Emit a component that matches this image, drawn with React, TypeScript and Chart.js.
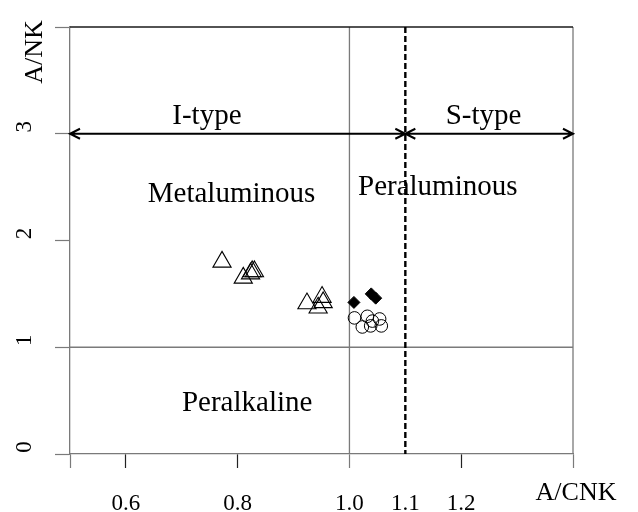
import React, { useEffect, useRef } from 'react';
import { Chart, registerables } from 'chart.js';

Chart.register(...registerables);

// Axis ticks
const xTickValues = [0.5, 0.6, 0.8, 1.0, 1.1, 1.2, 1.4];
const xTickLabels = ['', '0.6', '0.8', '1.0', '1.1', '1.2', ''];
const yTickValues = [0, 1, 2, 3, 4];
const yTickLabels = ['0', '1', '2', '3', ''];
const xAxisName = 'A/CNK';
const yAxisName = 'A/NK';

// Series: open triangles
const triangleX = [0.772, 0.81, 0.823, 0.826, 0.83, 0.924, 0.951, 0.953, 0.944];
const triangleY = [1.8, 1.65, 1.69, 1.71, 1.71, 1.41, 1.47, 1.42, 1.37];
// Series: filled diamonds
const diamondX = [1.008, 1.039, 1.047];
const diamondY = [1.42, 1.5, 1.46];
// Series: open circles
const circleX = [1.009, 1.023, 1.032, 1.038, 1.041, 1.054, 1.057];
const circleY = [1.275, 1.19, 1.29, 1.2, 1.245, 1.265, 1.2];

// Region labels
const regionNames = ['I-type', 'S-type', 'Metaluminous', 'Peraluminous', 'Peralkaline'];
const regionX = [0.745, 1.24, 0.789, 1.158, 0.817];
const regionY = [3.16, 3.16, 2.43, 2.5, 0.47];

// Boundary lines
const boundaryACNK = 1.0;
const boundaryANK = 1.0;
const typeBoundary = 1.1;
const typeArrowY = 3;
const xMin = 0.5;
const xMax = 1.4;
const yMin = 0;
const yMax = 4;

const FONT = '"Liberation Serif", "Times New Roman", serif';
const GRAY = '#7a7a7a';

const toPts = (xs: number[], ys: number[]) => xs.map((x, i) => ({ x, y: ys[i] }));

const overlayPlugin = {
  id: 'overlay',
  beforeDatasetsDraw(chart: any) {
    const { ctx, chartArea: a, scales } = chart;
    const xs = scales.x;
    const ys = scales.y;
    const px = (v: number) => xs.getPixelForValue(v);
    const py = (v: number) => ys.getPixelForValue(v);
    ctx.save();
    // gray boundary lines
    ctx.strokeStyle = GRAY;
    ctx.lineWidth = 1.3;
    ctx.beginPath();
    ctx.moveTo(a.left, py(boundaryANK));
    ctx.lineTo(a.right, py(boundaryANK));
    ctx.moveTo(px(boundaryACNK), a.top);
    ctx.lineTo(px(boundaryACNK), a.bottom);
    ctx.moveTo(a.right, a.top);
    ctx.lineTo(a.right, a.bottom);
    ctx.stroke();
    // top border
    ctx.strokeStyle = '#1a1a1a';
    ctx.lineWidth = 1.5;
    ctx.beginPath();
    ctx.moveTo(a.left, a.top);
    ctx.lineTo(a.right, a.top);
    ctx.stroke();
    // dashed I/S boundary
    ctx.strokeStyle = '#000';
    ctx.lineWidth = 2.4;
    ctx.setLineDash([6, 3]);
    ctx.beginPath();
    ctx.moveTo(px(typeBoundary), a.top);
    ctx.lineTo(px(typeBoundary), a.bottom);
    ctx.stroke();
    ctx.setLineDash([]);
    // double arrows
    const ay = py(typeArrowY);
    const segs = [
      [px(xMin), px(typeBoundary)],
      [px(typeBoundary), px(xMax)],
    ];
    ctx.lineWidth = 2;
    ctx.strokeStyle = '#000';
    const head = (x: number, dir: number) => {
      ctx.moveTo(x + dir * 10, ay - 5);
      ctx.lineTo(x, ay);
      ctx.lineTo(x + dir * 10, ay + 5);
    };
    ctx.beginPath();
    for (const [x0, x1] of segs) {
      ctx.moveTo(x0, ay);
      ctx.lineTo(x1, ay);
      head(x0, 1);
      head(x1, -1);
    }
    ctx.stroke();
    // region texts
    ctx.fillStyle = '#000';
    ctx.font = `29px ${FONT}`;
    ctx.textAlign = 'center';
    ctx.textBaseline = 'middle';
    regionNames.forEach((n, i) => {
      ctx.fillText(n, px(regionX[i]), py(regionY[i]));
    });
    // axis names
    ctx.font = `26px ${FONT}`;
    ctx.fillText(xAxisName, px(xMax) + 3, a.bottom + 39);
    ctx.save();
    ctx.translate(a.left - 35, py(yMax) + 25);
    ctx.rotate(-Math.PI / 2);
    ctx.fillText(yAxisName, 0, 0);
    ctx.restore();
    ctx.restore();
  },
};

export default function App() {
  const ref = useRef<HTMLCanvasElement | null>(null);
  useEffect(() => {
    document.body.style.margin = '0';
    const canvas = ref.current;
    if (!canvas) return;
    const chart = new Chart(canvas, {
      type: 'scatter',
      data: {
        datasets: [
          {
            label: 'triangles',
            data: toPts(triangleX, triangleY),
            pointStyle: 'triangle',
            radius: 10.5,
            borderColor: '#000',
            backgroundColor: 'rgba(0,0,0,0)',
            borderWidth: 1.1,
          },
          {
            label: 'diamonds',
            data: toPts(diamondX, diamondY),
            pointStyle: 'rectRot',
            radius: 6,
            borderColor: '#000',
            backgroundColor: '#000',
            borderWidth: 1,
          },
          {
            label: 'circles',
            data: toPts(circleX, circleY),
            pointStyle: 'circle',
            radius: 6.3,
            borderColor: '#000',
            backgroundColor: 'rgba(0,0,0,0)',
            borderWidth: 1,
          },
        ],
      },
      options: {
        animation: false,
        responsive: false,
        devicePixelRatio: 1,
        layout: { padding: { top: 27, right: 65, left: 0, bottom: 0 } },
        plugins: { legend: { display: false }, tooltip: { enabled: false } },
        scales: {
          x: {
            type: 'linear',
            min: xMin,
            max: xMax,
            afterBuildTicks: (s: any) => {
              s.ticks = xTickValues.map((v) => ({ value: v }));
            },
            afterFit: (s: any) => {
              s.height = 58;
              s.paddingLeft = 0;
              s.paddingRight = 0;
            },
            border: { display: true, color: GRAY, width: 1.3 },
            grid: {
              drawOnChartArea: false,
              drawTicks: true,
              tickLength: 14,
              tickWidth: 1.2,
              tickColor: (c: any) => {
                const v = c.tick?.value;
                if (v === 1.1) return 'rgba(0,0,0,0)';
                if (v === 0.5 || v === 1.0 || v === 1.4) return GRAY;
                return '#222';
              },
            },
            ticks: {
              autoSkip: false,
              maxRotation: 0,
              minRotation: 0,
              padding: 22,
              color: '#000',
              font: { family: FONT, size: 23 },
              callback: (v: any) => {
                const i = xTickValues.findIndex((t) => Math.abs(t - v) < 1e-9);
                return i >= 0 ? xTickLabels[i] : '';
              },
            },
          },
          y: {
            type: 'linear',
            min: yMin,
            max: yMax,
            afterBuildTicks: (s: any) => {
              s.ticks = yTickValues.map((v) => ({ value: v }));
            },
            afterFit: (s: any) => {
              s.width = 70;
              s.paddingTop = 0;
              s.paddingBottom = 0;
            },
            border: { display: true, color: GRAY, width: 1.3 },
            grid: {
              drawOnChartArea: false,
              drawTicks: true,
              tickLength: 15,
              tickWidth: 1.2,
              tickColor: GRAY,
            },
            ticks: {
              autoSkip: false,
              minRotation: 90,
              maxRotation: 90,
              crossAlign: 'center',
              padding: 24,
              labelOffset: -7,
              color: '#000',
              font: { family: FONT, size: 23 },
              callback: (v: any) => {
                const i = yTickValues.findIndex((t) => Math.abs(t - v) < 1e-9);
                return i >= 0 ? yTickLabels[i] : '';
              },
            },
          },
        },
      },
      plugins: [overlayPlugin],
    } as any);
    return () => chart.destroy();
  }, []);
  return (
    <div style={{ width: 638, height: 512 }}>
      <canvas ref={ref} width={638} height={512} style={{ display: 'block' }} />
    </div>
  );
}
